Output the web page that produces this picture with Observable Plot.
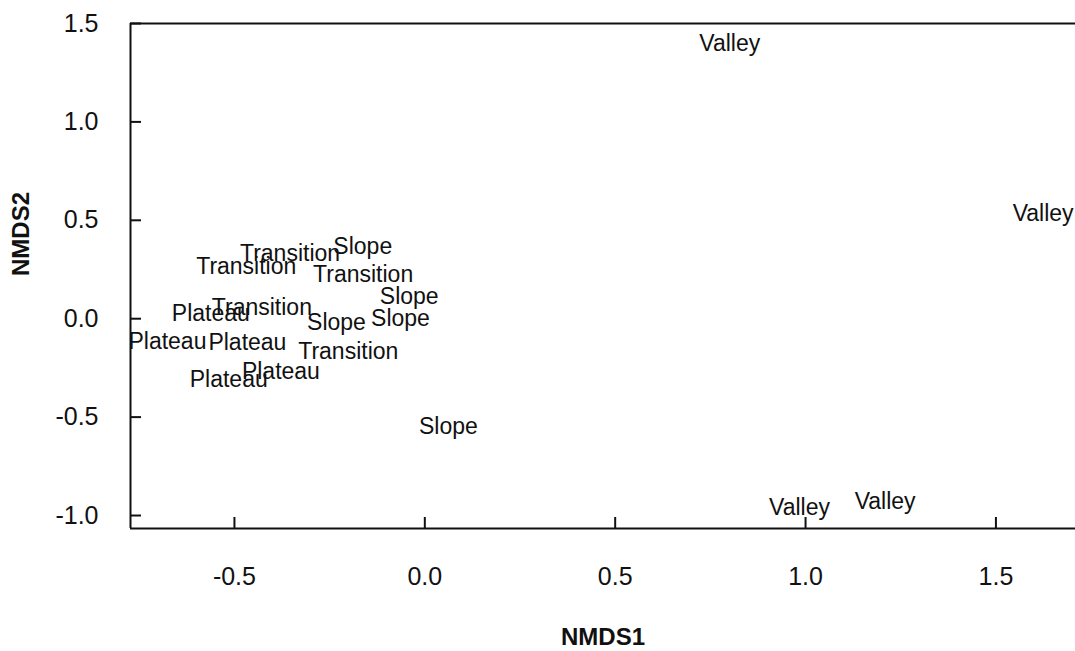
<!DOCTYPE html>
<html>
<head>
<meta charset="utf-8">
<script src="https://cdn.jsdelivr.net/npm/d3@7"></script>
<script src="https://cdn.jsdelivr.net/npm/@observablehq/plot@0.6"></script>
<style>
  html, body { margin: 0; padding: 0; background: #fff; }
  #chart svg { display: block; }
</style>
</head>
<body>
<div id="chart"></div>
<script>
const labels = ["Valley","Valley","Valley","Valley",
  "Transition","Slope","Transition","Transition","Slope",
  "Plateau","Transition","Slope","Slope","Plateau",
  "Plateau","Transition","Plateau","Plateau","Slope"];
const nmds1 = [0.801, 1.624, 0.984, 1.209,
  -0.354, -0.163, -0.469, -0.162, -0.041,
  -0.562, -0.428, -0.232, -0.064, -0.676,
  -0.466, -0.201, -0.378, -0.515, 0.062];
const nmds2 = [1.397, 0.533, -0.962, -0.928,
  0.330, 0.367, 0.265, 0.223, 0.113,
  0.028, 0.054, -0.022, -0.002, -0.116,
  -0.124, -0.167, -0.268, -0.310, -0.548];
const xTicks = [-0.5, 0.0, 0.5, 1.0, 1.5];
const yTicks = [-1.0, -0.5, 0.0, 0.5, 1.0, 1.5];
const xDomain = [-0.773, 1.709];
const yDomain = [-1.066, 1.5];
const xTitle = "NMDS1";
const yTitle = "NMDS2";

const points = labels.map((l, i) => ({label: l, x: nmds1[i], y: nmds2[i]}));
const fmt = (d) => d.toFixed(1);
const ink = "#111";

const chart = Plot.plot({
  width: 1075,
  height: 651,
  marginTop: 23,
  marginBottom: 123,
  marginLeft: 130,
  marginRight: 0,
  style: {fontFamily: "'Liberation Sans', Arial, Helvetica, sans-serif", color: ink, background: "#fff"},
  x: {domain: xDomain},
  y: {domain: yDomain},
  marks: [
    Plot.ruleY([yDomain[0]], {stroke: ink, strokeWidth: 2}),
    Plot.ruleY([yDomain[1]], {stroke: ink, strokeWidth: 2}),
    Plot.ruleX([xDomain[0]], {stroke: ink, strokeWidth: 2}),
    Plot.axisX({ticks: xTicks, tickSize: -11, tickFormat: () => "", label: null, stroke: ink, strokeWidth: 2}),
    Plot.axisX({ticks: xTicks, tickSize: 0, tickPadding: 39, tickFormat: fmt, label: null, fontSize: 25, fill: ink}),
    Plot.axisY({ticks: yTicks, tickSize: -11, tickFormat: () => "", label: null, stroke: ink, strokeWidth: 2}),
    Plot.axisY({ticks: yTicks, tickSize: 0, tickPadding: 32, tickFormat: fmt, label: null, fontSize: 25, fill: ink}),
    Plot.text(points, {x: "x", y: "y", text: "label", fontSize: 23, fill: ink}),
    Plot.text([xTitle], {frameAnchor: "bottom", dy: 116, fontSize: 24, fontWeight: "bold", fill: ink}),
    Plot.text([yTitle], {frameAnchor: "left", dx: -109, rotate: -90, fontSize: 24, fontWeight: "bold", fill: ink})
  ]
});
document.getElementById("chart").appendChild(chart);
</script>
</body>
</html>
